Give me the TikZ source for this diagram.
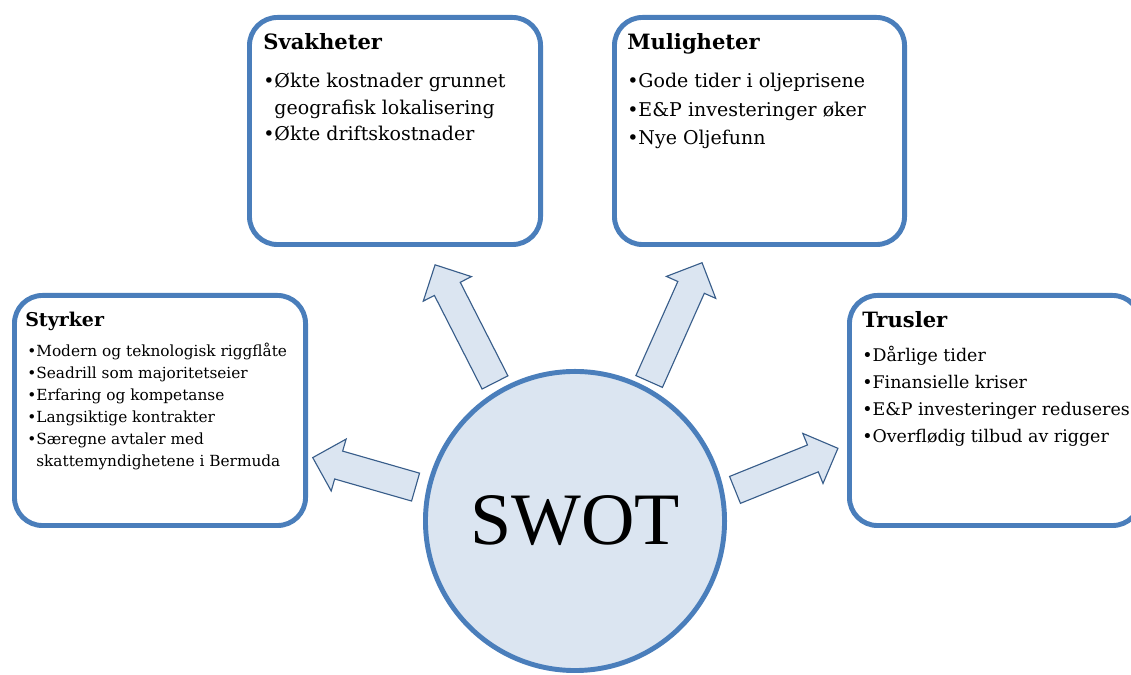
\documentclass[tikz,border=0pt]{standalone}
\usepackage{fontspec}
\setmainfont{DejaVu Serif}
\newfontfamily\swotfont{Liberation Serif}
\usetikzlibrary{calc,positioning}
\definecolor{swotblue}{RGB}{74,126,187}
\definecolor{swotfill}{RGB}{219,229,241}
\definecolor{swotedge}{RGB}{56,93,138}
% block arrow: start (polar, from the circle), angle, length
\newcommand{\swotarrow}[3]{%
  \draw [blockarrow,shift={($(swot.center)+(#1)$)},rotate=#2]
    (0,-14.5) -- (#3-27,-14.5) -- (#3-27,-27) -- (#3,0)
    -- (#3-27,27) -- (#3-27,14.5) -- (0,14.5) -- cycle;}
\newcommand{\swotlist}[1]{\begin{tabular}[t]{@{}l@{}}#1\end{tabular}}

\begin{document}
\begin{tikzpicture}[x=0.025cm,y=0.025cm,
    box/.style={draw=swotblue,line width=3.5pt,rounded corners=0.7cm,fill=white,
      minimum width=7.275cm,minimum height=5.675cm},
    blockarrow/.style={draw=swotedge,fill=swotfill,line width=0.8pt,line join=miter},
    heading/.style={font=\fontsize{15}{18}\selectfont\bfseries,anchor=base west,inner sep=0pt},
    bullets/.style={anchor=base west,inner sep=0pt}]
  \useasboundingbox (0,0) rectangle (1131,675);
  \clip (0,0) rectangle (1131,675);

  \node [box] (svak) at (395,544) {};
  \node [box,minimum width=7.25cm] (mulig) at (759.5,544) {};
  \node [box,minimum height=5.75cm] (styrk) at (160,264.5) {};
  \node [box,minimum height=5.75cm] (trusl) at (995,264.5) {};

  \node [circle,draw=swotblue,fill=swotfill,line width=3.5pt,minimum size=7.475cm,
    inner sep=0pt,font=\swotfont\fontsize{52.6}{60}\selectfont] (swot) at (575,154) {SWOT};

  \swotarrow{120:160}{117}{132}
  \swotarrow{62:158}{66}{130}
  \swotarrow{168:163}{164}{107}
  \swotarrow{11:163}{22}{111}

  \node [heading] (svak-head) at (263,625) {Svakheter};
  \node [bullets,font=\fontsize{13.5}{18.8}\selectfont] (svak-list) at (263,587) {\swotlist{
    •Økte kostnader grunnet\\
    \phantom{•}geografisk lokalisering\\
    •Økte driftskostnader}};

  \node [heading] (mulig-head) at (627,625) {Muligheter};
  \node [bullets,font=\fontsize{13.5}{20.2}\selectfont] (mulig-list) at (627,587) {\swotlist{
    •Gode tider i oljeprisene\\
    •E\&P investeringer øker\\
    •Nye Oljefunn}};

  \node [heading,font=\fontsize{13.5}{16}\selectfont\bfseries] (styrk-head) at (25,348) {Styrker};
  \node [bullets,font=\fontsize{10.9}{15.6}\selectfont] (styrk-list) at (27,318) {\swotlist{
    •Modern og teknologisk riggflåte\\
    •Seadrill som majoritetseier\\
    •Erfaring og kompetanse\\
    •Langsiktige kontrakter\\
    •Særegne avtaler med\\
    \phantom{•}skattemyndighetene i Bermuda}};

  \node [heading] (trusl-head) at (862,347) {Trusler};
  \node [bullets,font=\fontsize{12.4}{19.2}\selectfont] (trusl-list) at (862,313) {\swotlist{
    •Dårlige tider\\
    •Finansielle kriser\\
    •E\&P investeringer reduseres\\
    •Overflødig tilbud av rigger}};
\end{tikzpicture}
\end{document}
